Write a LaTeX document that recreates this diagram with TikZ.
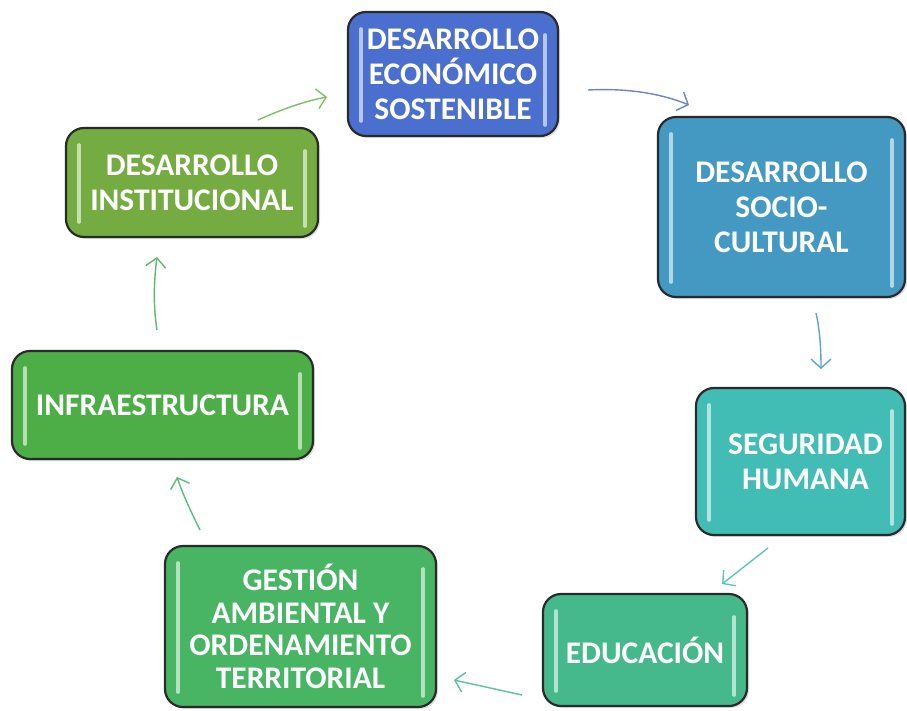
\documentclass[tikz,border=0pt]{standalone}
\usepackage{fontspec}
\setmainfont{Carlito}
\usetikzlibrary{arrows.meta,shadows,calc}
\definecolor{boxline}{HTML}{2A2A2A}
\definecolor{cEco}{HTML}{4A6FCF}
\definecolor{cSoc}{HTML}{4399C2}
\definecolor{cSeg}{HTML}{41BDB6}
\definecolor{cEdu}{HTML}{46B98C}
\definecolor{cGes}{HTML}{47B564}
\definecolor{cInf}{HTML}{4DAE48}
\definecolor{cIns}{HTML}{74AC42}
\definecolor{aIns}{HTML}{7CBF6A}
\definecolor{aEco}{HTML}{6A86C6}
\definecolor{aSoc}{HTML}{5BA4CC}
\definecolor{aSeg}{HTML}{5CC4C4}
\definecolor{aEdu}{HTML}{5CC0A0}
\definecolor{aGes}{HTML}{5CBC7A}
\definecolor{aInf}{HTML}{5CB86A}
\tikzset{
  box/.style={draw=boxline, line width=2.2pt, rounded corners=18pt, text=white,
    font=\bfseries\fontsize{31.5}{35}\selectfont, align=center, inner sep=0pt,
    drop shadow={opacity=0.25, shadow xshift=2pt, shadow yshift=-2pt}},
  glossbar/.style={line width=3.4pt, line cap=round, white, opacity=0.6},
  conn/.style={line width=1.4pt, -{Straight Barb[length=9pt,width=20pt,line width=1.4pt]}}
}
\newcommand\glossbars[1]{%
  \draw[glossbar] ($(#1.north west)+(14,18)$) -- ($(#1.south west)+(14,-16)$);
  \draw[glossbar] ($(#1.north east)+(-14,24)$) -- ($(#1.south east)+(-14,-12)$);}
\begin{document}
\begin{tikzpicture}[x=1pt,y=-1pt]
\useasboundingbox (0,0) rectangle (907,710);
\node[box, fill=cEco, minimum width=210pt, minimum height=124pt] (eco) at (453,74)
  {DESARROLLO\\ECONÓMICO\\SOSTENIBLE};
\node[box, fill=cSoc, minimum width=247pt, minimum height=180pt] (soc) at (781.5,207)
  {DESARROLLO\\SOCIO-\\CULTURAL};
\node[box, fill=cSeg, minimum width=209pt, minimum height=147pt] (seg) at (800.5,461.5)
  {\hspace*{10pt}SEGURIDAD\\\hspace*{10pt}HUMANA};
\node[box, fill=cEdu, minimum width=204pt, minimum height=112pt] (edu) at (645,650)
  {EDUCACIÓN};
\node[box, fill=cGes, minimum width=271pt, minimum height=161pt,
  font=\bfseries\fontsize{31.5}{32.5}\selectfont] (ges) at (300.5,626.5)
  {GESTIÓN\\AMBIENTAL Y\\ORDENAMIENTO\\TERRITORIAL};
\node[box, fill=cInf, minimum width=301pt, minimum height=108pt] (inf) at (162.5,405)
  {INFRAESTRUCTURA};
\node[box, fill=cIns, minimum width=252pt, minimum height=109pt] (ins) at (192,182.5)
  {DESARROLLO\\INSTITUCIONAL};
\foreach \n in {eco,soc,seg,edu,ges,inf,ins}{\glossbars{\n}}
% connector end points
\coordinate (a1s) at (258,120); \coordinate (a1e) at (327,97);
\coordinate (a2s) at (588,90);  \coordinate (a2e) at (689,105);
\coordinate (a3s) at (816,313); \coordinate (a3e) at (821,369);
\coordinate (a4s) at (768,548); \coordinate (a4e) at (722,584);
\coordinate (a5s) at (522,695); \coordinate (a5e) at (454,680);
\coordinate (a6s) at (200,530); \coordinate (a6e) at (177,477);
\coordinate (a7s) at (157,330); \coordinate (a7e) at (157,257);
\draw[conn, aIns] (a1s) .. controls (280,110) and (305,101) .. (a1e);
\draw[conn, aEco] (a2s) .. controls (625,88) and (660,93) .. (a2e);
\draw[conn, aSoc] (a3s) .. controls (820,330) and (821,350) .. (a3e);
\draw[conn, aSeg] (a4s) -- (a4e);
\draw[conn, aEdu] (a5s) .. controls (495,689) and (472,684) .. (a5e);
\draw[conn, aGes] (a6s) .. controls (190,510) and (182,492) .. (a6e);
\draw[conn, aInf] (a7s) .. controls (153,305) and (154,280) .. (a7e);
\end{tikzpicture}
\end{document}
